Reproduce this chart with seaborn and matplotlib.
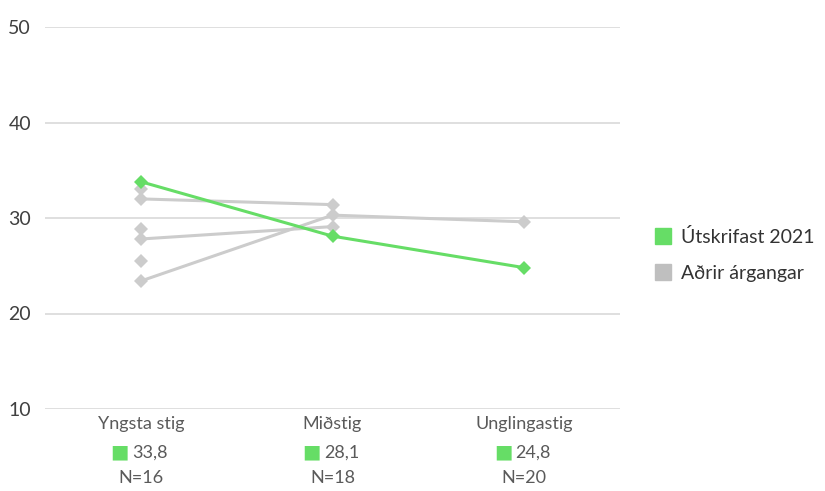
import matplotlib
matplotlib.use("Agg")
import matplotlib.pyplot as plt
import seaborn as sns
import numpy as np
import pandas as pd
from matplotlib.lines import Line2D
import matplotlib.transforms as mtransforms

categories = ["Yngsta stig", "Miðstig", "Unglingastig"]
green_values = [33.8, 28.1, 24.8]
green_labels = ["33,8", "28,1", "24,8"]
n_labels = ["N=16", "N=18", "N=20"]
gray_series = [
    [32.0, 31.4, np.nan],
    [23.4, 30.3, 29.6],
    [27.8, 29.1, np.nan],
    [33.0, np.nan, np.nan],
    [28.8, np.nan, np.nan],
    [25.5, np.nan, np.nan],
]
legend_labels = ["Útskrifast 2021", "Aðrir árgangar"]

GREEN = "#66dd66"
GRAY_LINE = "#cccccc"
GRAY_LEG = "#bfbfbf"

sns.set_style("white")
plt.rcParams["font.family"] = ["Lato", "DejaVu Sans"]

fig = plt.figure(figsize=(8.25, 4.91), dpi=100)
ax = fig.add_axes([45/825, 1-409/491, (620-45)/825, (409-27)/491])

xs = np.arange(len(categories))
for i, s in enumerate(gray_series):
    df = pd.DataFrame({"x": xs, "y": s}).dropna()
    sns.lineplot(data=df, x="x", y="y", ax=ax, color=GRAY_LINE, marker="D",
                 markersize=7, markeredgewidth=0, linewidth=2.2, zorder=2)
dfg = pd.DataFrame({"x": xs, "y": green_values})
sns.lineplot(data=dfg, x="x", y="y", ax=ax, color=GREEN, marker="D",
             markersize=7, markeredgewidth=0, linewidth=2.2, zorder=3)

ax.set_xlim(-0.5, 2.5)
ax.set_ylim(10, 50)
ax.set_yticks([10, 20, 30, 40, 50])
ax.grid(axis="y", color="#d9d9d9", linewidth=1.2)
ax.set_axisbelow(True)
for sp in ax.spines.values():
    sp.set_visible(False)
ax.set_xticks([])
ax.set_xlabel("")
ax.set_ylabel("")
ax.tick_params(axis="y", length=0, pad=10, labelsize=14, labelcolor="#404040")

trans = mtransforms.blended_transform_factory(ax.transData, fig.transFigure)
TXT = "#5a5a5a"
for i, cat in enumerate(categories):
    ax.text(i, 1-424/491, cat, transform=trans, ha="center", va="center",
            fontsize=13, color=TXT)
    ax.text(i - 0.062, 1-452/491, "■", transform=trans, ha="right", va="center",
            fontsize=14, color=GREEN, family=["DejaVu Sans"])
    ax.text(i - 0.045, 1-453/491, green_labels[i], transform=trans, ha="left", va="center",
            fontsize=13, color=TXT)
    ax.text(i, 1-478/491, n_labels[i], transform=trans, ha="center", va="center",
            fontsize=13, color=TXT)

handles = [Line2D([], [], marker="s", linestyle="", color=GREEN, markersize=12),
           Line2D([], [], marker="s", linestyle="", color=GRAY_LEG, markersize=12)]
fig.legend(handles, legend_labels, loc="center left", bbox_to_anchor=(636/825, 1-255/491),
           frameon=False, fontsize=14, handletextpad=0.4, labelspacing=1.0,
           handlelength=1.0, labelcolor="#333333")

fig.savefig("out.png", dpi=100)
